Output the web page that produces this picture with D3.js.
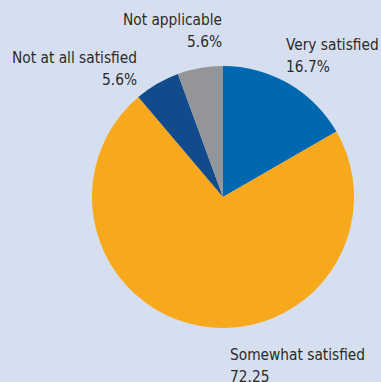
<!DOCTYPE html>
<html>
<head>
<meta charset="utf-8">
<script src="https://cdn.jsdelivr.net/npm/d3@7"></script>
<style>
  html, body { margin: 0; padding: 0; background: #d6dfef; }
  text { font-family: "DejaVu Sans Condensed", "Liberation Sans Narrow", "Roboto", sans-serif; fill: #2b2a29; }
</style>
</head>
<body>
<div id="chart"></div>
<script>
// data
var categories = ["Very satisfied", "Somewhat satisfied", "Not at all satisfied", "Not applicable"];
var values = [16.7, 72.25, 5.6, 5.6];
var valueLabels = ["16.7%", "72.25", "5.6%", "5.6%"];
var colors = ["#0068b0", "#f8a81c", "#124b8b", "#939598"];

var width = 381, height = 382;
var cx = 223, cy = 197, radius = 131;

// where each label sits relative to the pie centre, and how it's aligned
var labelLayout = [
  { dx: 63, dy: -147, anchor: "start" },
  { dx: 7, dy: 163, anchor: "start" },
  { dx: -86, dy: -134, anchor: "end" },
  { dx: -1, dy: -172, anchor: "end" }
];

var svg = d3.select("#chart").append("svg")
    .attr("width", width)
    .attr("height", height)
  .append("g")
    .attr("transform", "translate(" + cx + "," + cy + ")");

var pie = d3.pie().sort(null).value(function(d) { return d; });
var arc = d3.arc().innerRadius(0).outerRadius(radius);

var arcs = pie(values);

svg.selectAll("path")
    .data(arcs)
  .enter().append("path")
    .attr("d", arc)
    .attr("fill", function(d, i) { return colors[i]; });

var labels = svg.selectAll("text.lbl")
    .data(arcs)
  .enter().append("text")
    .attr("class", "lbl")
    .attr("font-size", 15.3)
    .attr("text-anchor", function(d, i) { return labelLayout[i].anchor; })
    .attr("transform", function(d, i) { return "translate(" + labelLayout[i].dx + "," + labelLayout[i].dy + ")"; });

labels.append("tspan")
    .attr("x", 0)
    .attr("y", 0)
    .text(function(d, i) { return categories[i]; });

labels.append("tspan")
    .attr("x", 0)
    .attr("y", 22)
    .text(function(d, i) { return valueLabels[i]; });
</script>
</body>
</html>
